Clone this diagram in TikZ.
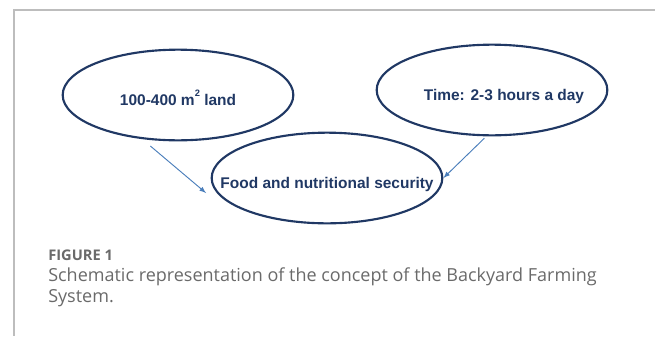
\documentclass[tikz,border=0pt]{standalone}
\usepackage{fontspec}
\setmainfont{Liberation Sans}
\newfontfamily\capfont{Open Sans}
\usetikzlibrary{shapes.geometric}
\definecolor{navy}{HTML}{203864}
\definecolor{arrowblue}{HTML}{4A7EBB}
\definecolor{framegray}{HTML}{BDBDBD}
\definecolor{capgray}{HTML}{6A6A6A}
\tikzset{>=latex}

\begin{document}
\begin{tikzpicture}[
    x=0.75pt, y=-0.75pt,
    blob/.style={draw=navy, ellipse, line width=1.6pt, minimum width=173pt,
        minimum height=68pt, inner xsep=-45pt, inner ysep=0pt, text=navy,
        font=\fontsize{11.6}{13}\selectfont\bfseries,
        text height=19pt, text depth=3pt},
    flow/.style={->, draw=arrowblue, line width=0.7pt},
    caption/.style={anchor=base west, inner sep=0pt, text=capgray, align=left}
]
    \useasboundingbox (0,0) rectangle (655,336);
    % frame
    \draw[framegray, line width=1pt] (655,10) -- (14,10) -- (14,336);

    % Ellipses
    \node[blob] (land) at (178,95) {100-400 m\raisebox{1.1ex}{\scriptsize 2} land};
    \node[blob] (time) at (492,90) {\hspace*{18pt}Time: 2-3 hours a day};
    \node[blob] (food) at (327,178) {Food and nutritional security};

    % Arrows
    \coordinate (landtip) at (206,193);
    \draw[flow, shorten <=8pt] (land.231) -- (landtip);
    \draw[flow, shorten <=2pt] (time.263) -- (food.0);

    % Caption
    \node[caption, font=\capfont\fontsize{11}{13}\selectfont\bfseries] (fig) at (48,260) {FIGURE 1};
    \node[caption, font=\capfont\fontsize{13.5}{16}\selectfont, anchor=north west] (cap) at (48,267)
        {Schematic representation of the concept of the Backyard Farming\\System.};
\end{tikzpicture}
\end{document}
